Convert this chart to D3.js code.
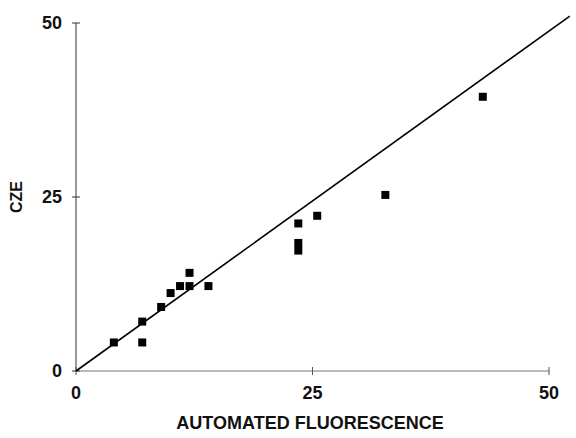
<!DOCTYPE html>
<html>
<head>
<meta charset="utf-8">
<script src="https://cdn.jsdelivr.net/npm/d3@7.9.0/dist/d3.min.js"></script>
<style>
  body { margin: 0; background: #fff; }
  text { font-family: "Liberation Sans", Arial, sans-serif; font-weight: bold; fill: #111; }
</style>
</head>
<body>
<svg id="chart" width="576" height="438"></svg>
<script>
// values
const fluorescence = [4, 7, 7, 9, 10, 11, 12, 12, 14, 23.5, 23.5, 23.5, 25.5, 32.7, 43];
const cze          = [4.1, 4.1, 7.1, 9.2, 11.2, 12.2, 12.2, 14.1, 12.2, 21.2, 18.4, 17.3, 22.3, 25.3, 39.4];
const tickValues = [0, 25, 50];
// fitted line, from origin out past the right end of the axis
const fitX = [0, 52.2];
const fitY = [0, 51];

const svg = d3.select('#chart');

const x = d3.scaleLinear().domain([0, 50]).range([76, 549]);
const y = d3.scaleLinear().domain([0, 50]).range([371, 23]);

// x axis (faint in the scan)
svg.append('line')
    .attr('x1', x(0)).attr('x2', x(50))
    .attr('y1', y(0)).attr('y2', y(0))
    .attr('stroke', '#777').attr('stroke-width', 1);

// y axis
svg.append('line')
    .attr('x1', x(0)).attr('x2', x(0))
    .attr('y1', y(0)).attr('y2', y(50))
    .attr('stroke', '#333').attr('stroke-width', 1);

tickValues.forEach((t) => {
    svg.append('line')
        .attr('x1', x(t)).attr('x2', x(t))
        .attr('y1', y(0) - 4).attr('y2', y(0) + 4)
        .attr('stroke', '#555');
    svg.append('line')
        .attr('x1', x(0) - 4).attr('x2', x(0) + 4)
        .attr('y1', y(t)).attr('y2', y(t))
        .attr('stroke', '#333');

    svg.append('text')
        .attr('x', x(t)).attr('y', y(0) + 28)
        .attr('text-anchor', 'middle')
        .attr('font-size', 18)
        .text(t);
    svg.append('text')
        .attr('x', 62).attr('y', y(t) + 6)
        .attr('text-anchor', 'end')
        .attr('font-size', 18)
        .text(t);
});

svg.append('text')
    .attr('x', 310).attr('y', 429)
    .attr('text-anchor', 'middle')
    .attr('font-size', 18)
    .text('AUTOMATED FLUORESCENCE');

svg.append('text')
    .attr('transform', `translate(22, ${y(25)}) rotate(-90)`)
    .attr('text-anchor', 'middle')
    .attr('font-size', 16)
    .text('CZE');

// fitted line
svg.append('line')
    .attr('x1', x(fitX[0])).attr('y1', y(fitY[0]))
    .attr('x2', x(fitX[1])).attr('y2', y(fitY[1]))
    .attr('stroke', '#000').attr('stroke-width', 1.6);

// points
const size = 8;
svg.selectAll('rect.pt')
    .data(fluorescence.map((v, i) => [v, cze[i]]))
    .join('rect')
    .attr('class', 'pt')
    .attr('x', (d) => x(d[0]) - size / 2)
    .attr('y', (d) => y(d[1]) - size / 2)
    .attr('width', size).attr('height', size)
    .attr('fill', '#000');
</script>
</body>
</html>
